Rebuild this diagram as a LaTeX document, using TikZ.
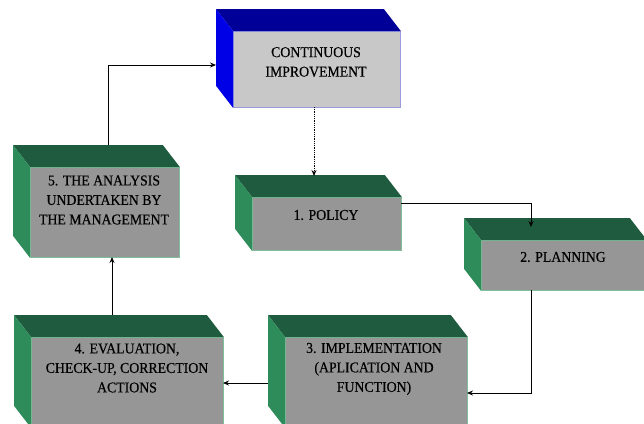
\documentclass[tikz,border=0pt]{standalone}
\usepackage{fontspec}
\setmainfont{Liberation Serif}
\newfontfamily\boxfont[FakeStretch=0.92,FakeBold=0.4]{Liberation Serif}
\usetikzlibrary{arrows.meta,calc}
\definecolor{gtop}{HTML}{1F5C3F}
\definecolor{gside}{HTML}{2E8B5A}
\definecolor{gfront}{HTML}{969696}
\definecolor{gedge}{HTML}{7FBF9A}
\definecolor{btop}{HTML}{000099}
\definecolor{bside}{HTML}{0000E6}
\definecolor{bfront}{HTML}{C8C8C8}
\definecolor{bedge}{HTML}{9A9AE0}
\tikzset{
  gfrontbox/.style={draw=gedge, fill=gfront, line width=0.8pt, inner sep=0pt, anchor=north west},
  bfrontbox/.style={draw=bedge, fill=bfront, line width=0.8pt, inner sep=0pt, anchor=north west},
  boxtext/.style={align=center, inner sep=0pt, font=\boxfont\fontsize{15}{19.5}\selectfont},
  arr/.style={line width=0.8pt, -{Stealth[length=6pt,width=5pt]}},
}
\newcommand{\boxfaces}[3]{%
  \fill[#2] (#1.north west) -- (#1.north east) -- ++(-17,-22) -- ($(#1.north west)+(-17,-22)$) -- cycle;
  \fill[#3] (#1.north west) -- (#1.south west) -- ++(-17,-22) -- ($(#1.north west)+(-17,-22)$) -- cycle;
}
\begin{document}
\begin{tikzpicture}[x=1pt,y=-1pt]
\useasboundingbox (0,0) rectangle (644,423);
\clip (0,0) rectangle (644,423);
% boxes
\node[bfrontbox, minimum width=167pt, minimum height=76pt] (ci) at (233,31) {};
\boxfaces{ci}{btop}{bside}
\node[gfrontbox, minimum width=149pt, minimum height=90pt] (b5) at (30,167) {};
\boxfaces{b5}{gtop}{gside}
\node[gfrontbox, minimum width=149pt, minimum height=53pt] (b1) at (252,197) {};
\boxfaces{b1}{gtop}{gside}
\node[gfrontbox, minimum width=165pt, minimum height=50pt] (b2) at (481,240) {};
\boxfaces{b2}{gtop}{gside}
\node[gfrontbox, minimum width=192pt, minimum height=90pt] (b4) at (31,337) {};
\boxfaces{b4}{gtop}{gside}
\node[gfrontbox, minimum width=182pt, minimum height=90pt] (b3) at (285,337) {};
\boxfaces{b3}{gtop}{gside}
% texts
\node[boxtext] (cit) at (316,62) {CONTINUOUS\\IMPROVEMENT};
\node[boxtext] (b5t) at (104,200) {5. THE ANALYSIS\\UNDERTAKEN BY\\THE MANAGEMENT};
\node[boxtext] (b1t) at (326,215) {1. POLICY};
\node[boxtext] (b2t) at (563,257) {2. PLANNING};
\node[boxtext] (b4t) at (127,368) {4. EVALUATION,\\CHECK-UP, CORRECTION\\ACTIONS};
\node[boxtext] (b3t) at (374,369) {3. IMPLEMENTATION\\(APLICATION AND\\FUNCTION)};
% connector end points
\coordinate (b5top) at (108,145);
\coordinate (cileft) at (216,65);
\coordinate (cibot) at (314,107);
\coordinate (b1top) at (314,176);
\coordinate (b1right) at (401,203);
\coordinate (b2top) at (531,227);
\coordinate (b2bot) at (531,290);
\coordinate (b3right) at (467,393);
\coordinate (b3left) at (268,383);
\coordinate (b4right) at (223,383);
\coordinate (b4top) at (112,315);
\coordinate (b5bot) at (112,257);
% connectors
\draw[arr] (b5top) |- (cileft);
\draw[arr, densely dotted] (cibot) -- (b1top);
\draw[arr] (b1right) -| (b2top);
\draw[arr] (b2bot) |- (b3right);
\draw[arr] (b3left) -- (b4right);
\draw[arr] (b4top) -- (b5bot);
\end{tikzpicture}
\end{document}
